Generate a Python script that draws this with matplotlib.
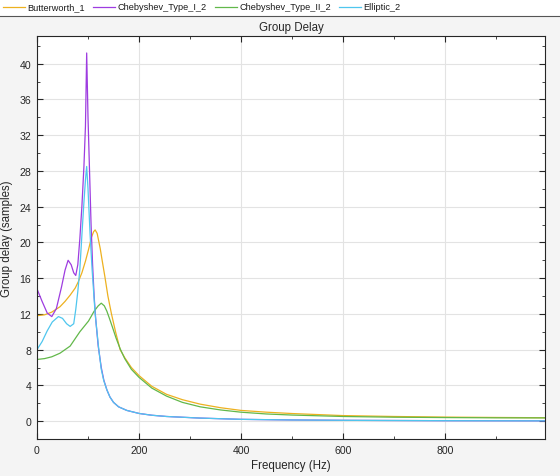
import numpy as np
import matplotlib
matplotlib.use("Agg")
import matplotlib.pyplot as plt
from matplotlib.lines import Line2D
from matplotlib.patches import Rectangle
from matplotlib.ticker import MultipleLocator

plt.rcParams['font.family'] = ['Liberation Sans', 'DejaVu Sans']

# values (frequency in Hz, group delay in samples)
f_butter = [0, 15, 29, 45, 55, 65, 75, 81, 88, 95, 101, 107, 111, 114, 118, 124, 128, 133, 139,
            146, 154, 163, 172, 185, 200, 225, 254, 285, 320, 360, 400, 450, 500, 600, 700, 800,
            900, 996]
gd_butter = [11.8, 11.9, 12.2, 12.8, 13.4, 14.1, 14.9, 15.6, 16.6, 17.9, 19.2, 20.6, 21.2, 21.4,
             21.0, 19.3, 17.9, 16.2, 14.0, 12.0, 10.0, 8.0, 7.1, 6.0, 5.1, 3.9, 3.0, 2.4, 1.9,
             1.5, 1.2, 1.0, 0.85, 0.62, 0.52, 0.45, 0.41, 0.38]

f_cheby1 = [0, 10, 20, 29, 38, 48, 55, 61, 67, 72, 76, 80, 84, 88, 92, 95, 97.4, 100, 103,
            106, 109, 112, 115, 120, 126, 131, 137, 143, 150, 160, 176, 200, 225, 254, 320, 400,
            500, 600, 800, 996]
gd_cheby1 = [14.8, 13.4, 12.1, 11.7, 12.6, 15.0, 16.9, 18.0, 17.5, 16.6, 16.3, 17.5, 20.4, 24.0,
             28.5, 33.0, 41.2, 34.0, 28.0, 22.0, 17.5, 14.0, 11.5, 8.4, 6.0, 4.6, 3.5, 2.7, 2.1,
             1.6, 1.2, 0.86, 0.66, 0.52, 0.34, 0.2, 0.13, 0.09, 0.05, 0.03]

f_cheby2 = [0, 15, 29, 45, 65, 84, 101, 112, 120, 126, 132, 137, 142, 148, 155, 163, 172, 185,
            200, 225, 254, 285, 320, 360, 400, 450, 500, 600, 700, 800, 900, 996]
gd_cheby2 = [6.9, 7.0, 7.2, 7.6, 8.4, 10.0, 11.2, 12.3, 12.9, 13.2, 12.9, 12.3, 11.5, 10.5, 9.3,
             8.1, 7.0, 5.8, 4.9, 3.7, 2.8, 2.1, 1.6, 1.25, 1.0, 0.8, 0.68, 0.52, 0.44, 0.4,
             0.37, 0.36]

f_ellip = [0, 10, 20, 30, 42, 50, 58, 65, 72, 76, 80, 84, 88, 92, 95, 97.4, 100, 104, 108, 114,
           121, 126, 131, 137, 143, 150, 160, 176, 200, 225, 254, 320, 400, 500, 600, 800, 996]
gd_ellip = [8.0, 8.9, 10.1, 11.1, 11.7, 11.5, 10.9, 10.6, 10.9, 12.5, 14.5, 17.0, 20.8, 24.5,
            27.0, 28.5, 26.0, 21.0, 17.0, 12.0, 8.1, 5.8, 4.5, 3.5, 2.7, 2.1, 1.6, 1.2, 0.86,
            0.66, 0.52, 0.34, 0.2, 0.13, 0.09, 0.05, 0.03]

names = ["Butterworth_1", "Chebyshev_Type_I_2", "Chebyshev_Type_II_2", "Elliptic_2"]
colors = ["#EDB120", "#9E3CE0", "#62B84A", "#4FC6EE"]

fig = plt.figure(figsize=(5.6, 4.77), dpi=100, facecolor="#F4F4F4")
W, H = 560.0, 477.0
ax = fig.add_axes([37/W, 1-440/H, (545-37)/W, (440-37)/H])

series = [(f_butter, gd_butter), (f_cheby1, gd_cheby1), (f_cheby2, gd_cheby2), (f_ellip, gd_ellip)]
for (ff, gg), c in zip(series, colors):
    ax.plot(ff, gg, color=c, lw=0.9)

ax.set_xlim(0, 996)
ax.set_ylim(-2, 43.1)
ax.xaxis.set_major_locator(MultipleLocator(200))
ax.xaxis.set_minor_locator(MultipleLocator(100))
ax.yaxis.set_major_locator(MultipleLocator(4))
ax.yaxis.set_minor_locator(MultipleLocator(2))
ax.grid(True, which="major", color="#E3E3E3", lw=0.8)
ax.set_axisbelow(True)
ax.tick_params(which="both", direction="in", top=True, right=True, labelsize=7.6,
               colors="#262626", pad=4)
ax.tick_params(which="major", length=4)
ax.tick_params(which="minor", length=2.5)
for s in ax.spines.values():
    s.set_color("#262626")
    s.set_linewidth(0.8)

ax.set_xlabel("Frequency (Hz)", fontsize=8.3, color="#262626", labelpad=3)
ax.set_ylabel("Group delay (samples)", fontsize=8.3, color="#262626", labelpad=5)
fig.text((37+545)/2/W, 1-28/H, "Group Delay", ha="center", va="center", fontsize=8.3,
         color="#262626")

# legend strip on top
fig.patches.append(Rectangle((0, 1-17/H), 1, 17/H, transform=fig.transFigure,
                             facecolor="white", edgecolor="none"))
fig.lines.append(Line2D([0, 1], [1-17/H, 1-17/H], transform=fig.transFigure,
                        color="#555555", lw=0.8))
leg_x = [3, 93, 215, 339]
for x0, name, c in zip(leg_x, names, colors):
    fig.lines.append(Line2D([x0/W, (x0+22)/W], [1-8/H, 1-8/H], transform=fig.transFigure,
                            color=c, lw=0.9))
    fig.text((x0+24)/W, 1-8/H, name, ha="left", va="center", fontsize=6.6, color="#1a1a1a")

fig.savefig("out.png", dpi=100, facecolor=fig.get_facecolor())
